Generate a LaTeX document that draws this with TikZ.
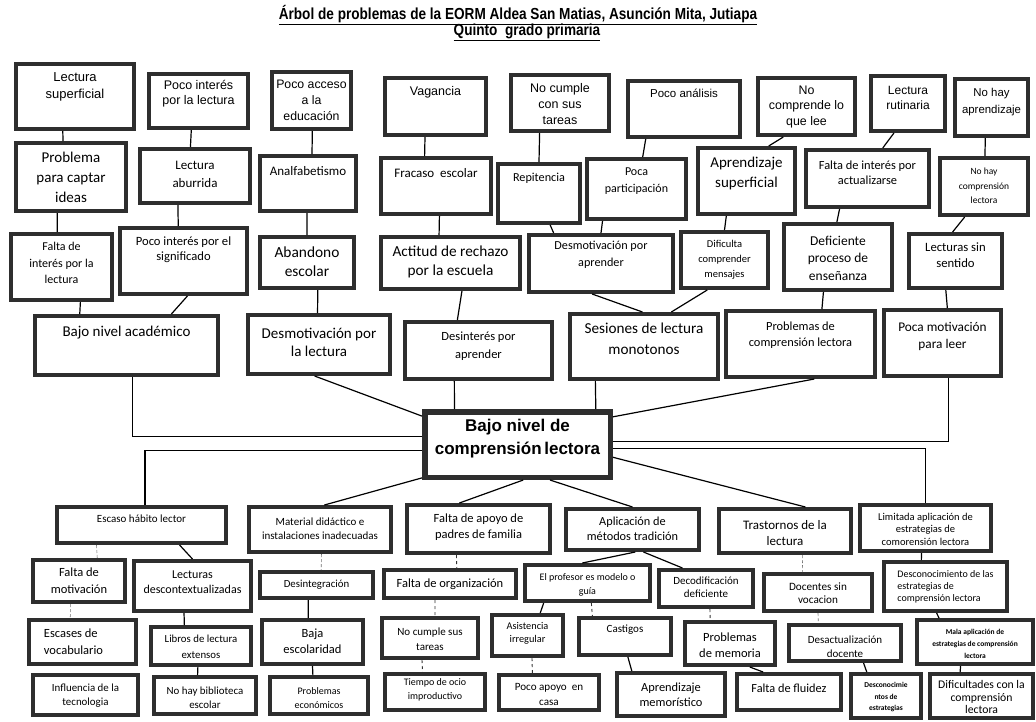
\documentclass[tikz,border=0pt]{standalone}
\usepackage{fontspec}
\setmainfont{Carlito}
\newfontfamily\arialf{Liberation Sans}
\newfontfamily\narrowf[FakeStretch=0.85]{Liberation Sans}
\usetikzlibrary{calc}

\definecolor{boxgray}{HTML}{2E2E2E}

\newcommand{\fsz}[2]{\fontsize{#1}{#2}\selectfont}
% box with its text placed at a given height
\newcommand{\probbox}[8]{%
  \node[pbox, minimum width={#4-#2-4.2}, minimum height={#5-#3-4.2}] (#1) at ({(#2+#4)/2},{(#3+#5)/2}) {};
  \node[ptext, font={#7}] (#1-t) at ({(#2+#4)/2},#6) {#8};}
\newcommand{\joinbox}[5][conn]{%
  \draw[#1] ($(#2.south west)!#3!(#2.south east)$) -- ($(#4.north west)!#5!(#4.north east)$);}

\tikzset{
  pbox/.style={draw=boxgray, line width=4.2pt, fill=white, inner sep=0pt},
  ptext/.style={align=center, inner sep=0pt, text=black},
  conn/.style={draw=black, line width=1.2pt},
  faint/.style={draw=black!55, line width=0.6pt, densely dashed},
  brk/.style={draw=black!80, line width=0.9pt, dashed},
}

\begin{document}
\begin{tikzpicture}[x=1pt, y=-1pt]
    \fill[white] (0,0) rectangle (1036,721);
    \useasboundingbox (0,0) rectangle (1036,721);

    \node[font={\narrowf\bfseries\fsz{16}{18}}] (title1) at (518,15) {\underline{Árbol de problemas de la EORM Aldea San Matias, Asunción Mita, Jutiapa}};
    \node[font={\narrowf\bfseries\fsz{16}{18}}] (title2) at (527,32) {\underline{Quinto\ \ grado primaria}};

    % effects
    \probbox{lsup}{14}{62}{136}{131}{87}{\arialf\fsz{13}{17}}{Lectura\\superficial}
    \probbox{pint}{147}{72}{250}{130}{94}{\arialf\fsz{12.5}{15}}{Poco interés\\por la lectura}
    \probbox{pacc}{270}{70}{353}{131}{100}{\arialf\fsz{12.3}{16}}{Poco acceso\\a la\\educación}
    \probbox{vag}{383}{76}{488}{137}{92}{\arialf\fsz{12.5}{15}}{Vagancia}
    \probbox{ncum}{509}{73}{611}{133}{104}{\arialf\fsz{12.5}{16}}{No cumple\\con sus\\tareas}
    \probbox{pana}{626}{79}{742}{139}{93}{\arialf\fsz{11.5}{14}}{Poco análisis}
    \probbox{ncom}{756}{76}{857}{137}{107}{\arialf\fsz{12.4}{15.5}}{No\\comprende lo\\que lee}
    \probbox{lrut}{869}{74}{947}{133}{98}{\arialf\fsz{12}{15}}{Lectura\\rutinaria}
    \probbox{nhap}{953}{77}{1030}{138}{102}{\arialf\fsz{11.4}{17}}{No hay\\aprendizaje}

    \probbox{pcap}{14}{141}{128}{213}{177}{\fsz{15}{20}}{Problema\\para captar\\ideas}
    \probbox{labu}{138}{147}{252}{205}{174}{\fsz{13}{18}}{Lectura\\aburrida}
    \probbox{analf}{258}{154}{358}{213}{171}{\fsz{13}{16}}{Analfabetismo}
    \probbox{frac}{379}{156}{493}{216}{173}{\fsz{13}{16}}{Fracaso\ \ escolar}
    \probbox{repi}{496}{162}{582}{225}{178}{\fsz{12.2}{15}}{Repitencia}
    \probbox{ppar}{585}{157}{688}{221}{181}{\fsz{12}{17}}{Poca\\participación}
    \probbox{asup}{696}{146}{797}{216}{173}{\fsz{15}{20}}{Aprendizaje\\superficial}
    \probbox{fact}{804}{148}{931}{209}{173}{\fsz{12.4}{15}}{Falta de interés por\\actualizarse}
    \probbox{nhcl}{938}{156}{1030}{217}{186}{\fsz{9.5}{14.5}}{No hay\\comprensión\\lectora}

    \probbox{fint}{9}{232}{114}{302}{263}{\fsz{12}{16.5}}{Falta de\\interés por la\\lectura}
    \probbox{psig}{118}{226}{249}{296}{250}{\fsz{12.6}{15}}{Poco interés por el\\significado}
    \probbox{aban}{258}{235}{356}{290}{262}{\fsz{15.4}{19}}{Abandono\\escolar}
    \probbox{acti}{379}{235}{522}{291}{262}{\fsz{15.3}{19}}{Actitud de rechazo\\por la escuela}
    \probbox{dapr}{527}{233}{675}{294}{255}{\fsz{12.2}{17}}{Desmotivación por\\aprender}
    \probbox{dcom}{679}{230}{770}{290}{260}{\fsz{10.5}{15}}{Dificulta\\comprender\\mensajes}
    \probbox{defi}{782}{222}{894}{292}{258}{\fsz{13.5}{17.5}}{Deficiente\\proceso de\\enseñanza}
    \probbox{lsin}{907}{232}{1004}{290}{255}{\fsz{12.7}{16}}{Lecturas sin\\sentido}

    \probbox{bnac}{33}{314}{220}{377}{333}{\fsz{15}{18}}{Bajo nivel académico}
    \probbox{dlec}{246}{313}{392}{376}{342}{\fsz{15}{18}}{Desmotivación por\\la lectura}
    \probbox{dint}{403}{320}{554}{381}{346}{\fsz{12.5}{18}}{Desinterés por\\aprender}
    \probbox{sesi}{568}{312}{720}{381}{339}{\fsz{15.2}{21}}{Sesiones de lectura\\monotonos}
    \probbox{pcom}{724}{309}{877}{379}{335}{\fsz{12.4}{16}}{Problemas de\\comprensión lectora}
    \probbox{pmot}{882}{308}{1003}{378}{336}{\fsz{13.3}{17}}{Poca motivación\\para leer}

    % central problem
    \node[pbox, line width=5.5pt, minimum width=185.5, minimum height=65.5] (ctr) at (517.5,444.5) {};
    \node[ptext, font={\arialf\bfseries\fsz{17}{23}}] (ctr-t) at (517.5,439) {Bajo nivel de\\comprensión\hspace{-2pt} lectora};

    % causes
    \probbox{esc}{55}{505}{228}{545}{519}{\fsz{11}{13}}{Escaso hábito lector}
    \probbox{mat}{247}{505}{393}{554}{529}{\fsz{11}{14}}{Material didáctico e\\instalaciones inadecuadas}
    \probbox{fap}{405}{503}{552}{555}{527}{\fsz{12.5}{16}}{Falta de apoyo de\\padres de familia}
    \probbox{apl}{564}{507}{701}{552}{529}{\fsz{12.3}{15}}{Aplicación de\\métodos tradición}
    \probbox{tras}{717}{507}{853}{555}{533}{\fsz{13}{16}}{Trastornos de la\\lectura}
    \probbox{lim}{858}{503}{993}{553}{529}{\fsz{10.5}{12.5}}{Limitada aplicación de\\estrategias de\\comorensión lectora}

    \probbox{fmot}{31}{558}{127}{604}{581}{\fsz{12.5}{17}}{Falta de\\motivación}
    \probbox{ldes}{132}{559}{253}{613}{582}{\fsz{12}{15}}{Lecturas\\descontextualizadas}
    \probbox{desi}{258}{570}{375}{600}{585}{\fsz{10.8}{13}}{Desintegración}
    \probbox{forg}{382}{568}{518}{600}{584}{\fsz{12.5}{15}}{Falta de organización}
    \probbox{prof}{523}{563}{652}{603}{585}{\fsz{10}{14}}{El profesor es modelo o\\guía}
    \probbox{deco}{657}{568}{755}{609}{587}{\fsz{11}{13}}{Decodificación\\deficiente}
    \probbox{dsvo}{762}{572}{874}{613}{593}{\fsz{11.2}{13}}{Docentes sin\\vocacion}
    \probbox{dlas}{882}{560}{1009}{613}{587}{\fsz{10}{12}}{\begin{tabular}{@{}l@{}}Desconocimiento de las\\estrategias de\\comprensión lectora\end{tabular}}

    \probbox{evoc}{27}{618}{138}{666}{643}{\fsz{12.5}{17}}{\begin{tabular}{@{}l@{}}Escases de\\vocabulario\end{tabular}\hspace{18pt}}
    \probbox{lext}{149}{625}{253}{667}{647}{\fsz{10.8}{16}}{Libros de lectura\\extensos}
    \probbox{besc}{260}{618}{365}{666}{641}{\fsz{12.5}{16}}{Baja\\escolaridad}
    \probbox{ncst}{380}{616}{480}{660}{639}{\fsz{11}{15}}{No cumple sus\\tareas}
    \probbox{asis}{490}{613}{565}{658}{633}{\fsz{10.3}{13}}{Asistencia\\irregular}
    \probbox{cast}{577}{616}{673}{657}{630}{\fsz{11}{13}}{Castigos}
    \probbox{pmem}{683}{620}{777}{667}{645}{\fsz{12.5}{16}}{Problemas\\de memoria}
    \probbox{dact}{787}{623}{903}{663}{647}{\fsz{11}{14}}{Desactualización\\docente}
    \probbox{mala}{915}{618}{1035}{666}{644}{\bfseries\fsz{7.5}{12}}{Mala aplicación de\\estrategias de comprensión\\lectora}

    \probbox{itec}{31}{673}{140}{717}{696}{\fsz{10.9}{14}}{Influencia de la\\tecnologia}
    \probbox{nbib}{152}{675}{258}{716}{698}{\fsz{10.9}{14}}{No hay biblioteca\\escolar}
    \probbox{peco}{268}{675}{370}{716}{698}{\fsz{10}{14}}{Problemas\\económicos}
    \probbox{tocio}{383}{672}{487}{712}{690}{\fsz{10}{14}}{Tiempo de ocio\\improductivo}
    \probbox{papo}{497}{673}{601}{712}{694}{\fsz{11.1}{15}}{Poco apoyo\ \ en\\casa}
    \probbox{amem}{615}{671}{727}{718}{695}{\fsz{12.4}{15}}{Aprendizaje\\memorístico}
    \probbox{fflu}{735}{672}{843}{712}{688}{\fsz{12.3}{15}}{Falta de fluidez}
    \probbox{dest}{849}{672}{923}{720}{697}{\bfseries\fsz{7.5}{11.5}}{Desconocimie\\ntos de\\estrategias}
    \probbox{dcon}{928}{672}{1035}{720}{697}{\fsz{11.7}{12.5}}{Dificultades con la\\comprensión\\lectora}

    % upper branches
    \joinbox{lsup}{.40}{pcap}{.43}
    \joinbox{pcap}{.38}{fint}{.46}
    \joinbox{fint}{.68}{bnac}{.25}
    \joinbox{pint}{.43}{labu}{.46}
    \joinbox{labu}{.35}{psig}{.46}
    \joinbox{psig}{.53}{bnac}{.74}
    \joinbox{pacc}{.51}{analf}{.54}
    \joinbox{analf}{.49}{aban}{.50}
    \joinbox{aban}{.61}{dlec}{.49}
    \joinbox{vag}{.40}{frac}{.40}
    \joinbox{frac}{.53}{acti}{.42}
    \joinbox{acti}{.58}{dint}{.36}
    \joinbox{ncum}{.30}{repi}{.50}
    \joinbox{pana}{.17}{ppar}{.56}
    \joinbox{repi}{.63}{dapr}{.18}
    \joinbox{ppar}{.17}{dapr}{.50}
    \joinbox{dapr}{.44}{sesi}{.49}
    \joinbox{dcom}{.31}{sesi}{.68}
    \joinbox{ncom}{.27}{asup}{.72}
    \joinbox{asup}{.30}{dcom}{.50}
    \joinbox{lrut}{.32}{fact}{.62}
    \joinbox{fact}{.28}{defi}{.49}
    \joinbox{defi}{.37}{pcom}{.64}
    \joinbox{nhap}{.42}{nhcl}{.51}
    \joinbox{nhcl}{.29}{lsin}{.47}
    \joinbox{lsin}{.40}{pmot}{.54}

    % into the central box
    \draw[conn] ($(bnac.south west)!.53!(bnac.south east)$) |- ($(ctr.north west)!.39!(ctr.south west)$);
    \draw[conn] ($(dlec.south west)!.47!(dlec.south east)$) -- ($(ctr.north west)!.1!(ctr.south west)$);
    \draw[conn] ($(dint.south west)!.34!(dint.south east)$) -- ($(ctr.north west)!.17!(ctr.north east)$);
    \draw[conn] ($(sesi.south west)!.18!(sesi.south east)$) -- ($(ctr.north west)!.91!(ctr.north east)$);
    \draw[conn] ($(pcom.south west)!.59!(pcom.south east)$) -- ($(ctr.north east)!.11!(ctr.south east)$);
    \draw[conn] ($(pmot.south west)!.55!(pmot.south east)$) |- ($(ctr.north east)!.46!(ctr.south east)$);
    \draw[conn] ($(ctr.north west)!.58!(ctr.south west)$) -| ($(esc.north west)!.52!(esc.north east)$);
    \draw[conn] ($(ctr.north east)!.56!(ctr.south east)$) -| ($(lim.north west)!.5!(lim.north east)$);
    \draw[conn] ($(ctr.north west)!.97!(ctr.south west)$) -- ($(mat.north west)!.53!(mat.north east)$);
    \draw[conn] ($(ctr.south west)!.53!(ctr.south east)$) -- ($(fap.north west)!.37!(fap.north east)$);
    \draw[conn] ($(ctr.south west)!.67!(ctr.south east)$) -- ($(apl.north west)!.5!(apl.north east)$);
    \draw[conn] ($(ctr.north east)!.68!(ctr.south east)$) -- ($(tras.north west)!.65!(tras.north east)$);

    % lower branches
    \joinbox[faint]{esc}{.24}{fmot}{.69}
    \joinbox{esc}{.72}{ldes}{.50}
    \joinbox[faint]{fmot}{.41}{evoc}{.39}
    \joinbox{ldes}{.43}{lext}{.34}
    \joinbox{lext}{.47}{nbib}{.43}
    \joinbox[faint]{mat}{.51}{desi}{.54}
    \joinbox{desi}{.43}{besc}{.46}
    \joinbox{besc}{.50}{peco}{.44}
    \joinbox[brk]{fap}{.35}{forg}{.55}
    \joinbox[brk]{forg}{.39}{ncst}{.55}
    \joinbox[brk]{ncst}{.42}{tocio}{.38}
    \joinbox{apl}{.52}{prof}{.46}
    \joinbox{apl}{.58}{deco}{.26}
    \joinbox{prof}{.16}{asis}{.67}
    \joinbox[brk]{prof}{.53}{cast}{.16}
    \joinbox[brk]{asis}{.56}{papo}{.34}
    \joinbox{cast}{.53}{amem}{.15}
    \joinbox[brk]{deco}{.54}{pmem}{.29}
    \joinbox{pmem}{.71}{fflu}{.26}
    \joinbox[faint]{tras}{.63}{dsvo}{.36}
    \joinbox[faint]{dsvo}{.50}{dact}{.27}
    \joinbox{dact}{.66}{dest}{.24}
    \joinbox{lim}{.47}{dlas}{.31}
    \joinbox{dlas}{.43}{mala}{.20}
    \joinbox{mala}{.38}{dcon}{.30}
\end{tikzpicture}
\end{document}
